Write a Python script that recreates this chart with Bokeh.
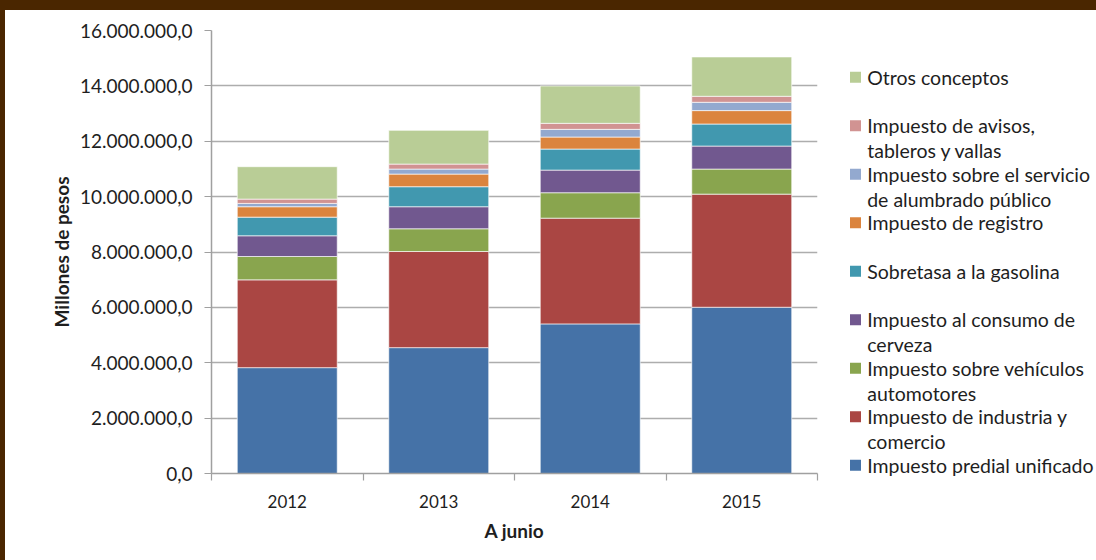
from bokeh.plotting import figure
from bokeh.models import ColumnDataSource, FixedTicker, Range1d, Div
from bokeh.layouts import row, column
from bokeh.embed import file_html
from bokeh.resources import INLINE
from bokeh.core.properties import value

# ---------------- data ----------------
years = ["2012", "2013", "2014", "2015"]
predial = [3823000, 4546000, 5403000, 6004000]
industria = [3171000, 3472000, 3819000, 4086000]
vehiculos = [843000, 821000, 919000, 905000]
cerveza = [749000, 796000, 817000, 831000]
gasolina = [673000, 723000, 760000, 796000]
registro = [376000, 456000, 434000, 485000]
alumbrado = [119000, 181000, 278000, 300000]
avisos = [156000, 180000, 217000, 217000]
otros = [1171000, 1219000, 1349000, 1421000]

series_keys = ["predial", "industria", "vehiculos", "cerveza", "gasolina",
               "registro", "alumbrado", "avisos", "otros"]
series_names = ["Impuesto predial unificado",
                "Impuesto de industria y comercio",
                "Impuesto sobre vehículos automotores",
                "Impuesto al consumo de cerveza",
                "Sobretasa a la gasolina",
                "Impuesto de registro",
                "Impuesto sobre el servicio de alumbrado público",
                "Impuesto de avisos, tableros y vallas",
                "Otros conceptos"]
legend_lines = [["Impuesto predial unificado"],
                ["Impuesto de industria y", "comercio"],
                ["Impuesto sobre vehículos", "automotores"],
                ["Impuesto al consumo de", "cerveza"],
                ["Sobretasa a la gasolina"],
                ["Impuesto de registro"],
                ["Impuesto sobre el servicio", "de alumbrado público"],
                ["Impuesto de avisos,", "tableros y vallas"],
                ["Otros conceptos"]]
colors = ["#4572a7", "#aa4643", "#89a54e", "#71588f", "#4198af",
          "#db843d", "#93a9cf", "#d19392", "#b9cd96"]

y_ticks = [0, 2000000, 4000000, 6000000, 8000000, 10000000, 12000000, 14000000, 16000000]
y_title = "Millones de pesos"
x_title = "A junio"

FONT = "Lato"
TXT = "#1e1e1e"
GRID = "#adadad"
BROWN = "#4a2600"

TOP_BAND = 10
LEFT_BAND = 5
TOTAL_W, TOTAL_H = 1096, 560
MAIN_W = 825
LEG_W = TOTAL_W - LEFT_BAND - MAIN_W
BODY_H = TOTAL_H - TOP_BAND

# ---------------- main chart ----------------
xs = [i + 0.5 for i in range(len(years))]
src = ColumnDataSource(dict(x=xs, predial=predial, industria=industria,
                            vehiculos=vehiculos, cerveza=cerveza, gasolina=gasolina,
                            registro=registro, alumbrado=alumbrado, avisos=avisos,
                            otros=otros))

p = figure(width=MAIN_W, height=BODY_H, x_range=Range1d(0, len(years)),
           y_range=Range1d(y_ticks[0], y_ticks[-1]),
           output_backend="svg", toolbar_location=None,
           min_border_left=206, min_border_right=13,
           min_border_top=20, min_border_bottom=87)
p.outline_line_color = None
p.background_fill_color = "white"
p.border_fill_color = "white"

p.vbar_stack(series_keys, x="x", width=0.66, color=colors, source=src,
             line_color="white", line_width=0.8, line_alpha=0.8)

def fmt(v):
    s = f"{v:,.1f}"
    return s.replace(",", "X").replace(".", ",").replace("X", ".")

p.yaxis.ticker = FixedTicker(ticks=y_ticks, minor_ticks=[])
p.yaxis.major_label_overrides = {v: fmt(v) for v in y_ticks}
p.xaxis.ticker = FixedTicker(ticks=xs, minor_ticks=list(range(len(years) + 1)))
p.xaxis.major_label_overrides = {x: y for x, y in zip(xs, years)}

for ax in (p.xaxis, p.yaxis):
    ax.axis_line_color = "#a0a0a0"
    ax.axis_line_width = 1.5
    ax.major_tick_line_color = "#a0a0a0"
    ax.minor_tick_line_color = "#a0a0a0"
    ax.major_tick_line_width = 1.2
    ax.minor_tick_line_width = 1.2
    ax.major_label_text_font = FONT
    ax.major_label_text_color = TXT
    ax.axis_label_text_font = FONT
    ax.axis_label_text_font_style = "bold"
    ax.axis_label_text_color = TXT

p.yaxis.major_label_text_font_size = "19px"
p.yaxis.major_tick_out = 7
p.yaxis.major_tick_in = 0
p.yaxis.major_label_standoff = 12
p.yaxis.axis_label = y_title
p.yaxis.axis_label_text_font_size = "19px"
p.yaxis.axis_label_standoff = 4

p.xaxis.major_label_text_font_size = "17px"
p.xaxis.major_tick_out = 0
p.xaxis.major_tick_in = 0
p.xaxis.minor_tick_out = 7
p.xaxis.minor_tick_in = 0
p.xaxis.major_label_standoff = 14
p.xaxis.axis_label = x_title
p.xaxis.axis_label_text_font_size = "19px"
p.xaxis.axis_label_standoff = 8

p.xgrid.visible = False
p.ygrid.grid_line_color = GRID
p.ygrid.grid_line_width = 1.5

# ---------------- legend panel (its own column, so its frame is the whole panel) ----
lg = figure(width=LEG_W, height=BODY_H, x_range=Range1d(0, LEG_W),
            y_range=Range1d(TOP_BAND + BODY_H, TOP_BAND),
            output_backend="svg", toolbar_location=None,
            x_axis_location=None, y_axis_location=None,
            min_border=0, min_border_left=0, min_border_right=0,
            min_border_top=0, min_border_bottom=0)
lg.outline_line_color = None
lg.grid.visible = False
lg.background_fill_color = "white"
lg.border_fill_color = "white"

first_y = 76.7
step = 48.5
line_gap = 24.8
sq_x, sq_size, text_x = 25.0, 11.0, 36.7

order = list(range(len(series_keys)))[::-1]   # top of legend = top of stack
sq_xs, sq_ys, sq_cols = [], [], []
t_xs, t_ys, t_txt = [], [], []
for pos, idx in enumerate(order):
    y0 = first_y + step * pos
    sq_xs.append(sq_x)
    sq_ys.append(y0)
    sq_cols.append(colors[idx])
    for k, line in enumerate(legend_lines[idx]):
        t_xs.append(text_x)
        t_ys.append(y0 + k * line_gap)
        t_txt.append(line)

lg.rect(x=sq_xs, y=sq_ys, width=sq_size, height=sq_size, color=sq_cols, line_color=None)
lg.text(x=t_xs, y=t_ys, text=t_txt, text_font=value(FONT), text_font_size="19.5px",
        text_baseline="middle", text_align="left", text_color=TXT)

# ---------------- frame bands ----------------
top_band = Div(text="", width=TOTAL_W, height=TOP_BAND, margin=0,
               styles={"background-color": BROWN})
left_band = Div(text="", width=LEFT_BAND, height=BODY_H, margin=0,
                styles={"background-color": BROWN})

layout = column(top_band,
                row(left_band, p, column(lg, spacing=0), spacing=0),
                spacing=0)
open("out.html", "w").write(file_html(layout, INLINE))
